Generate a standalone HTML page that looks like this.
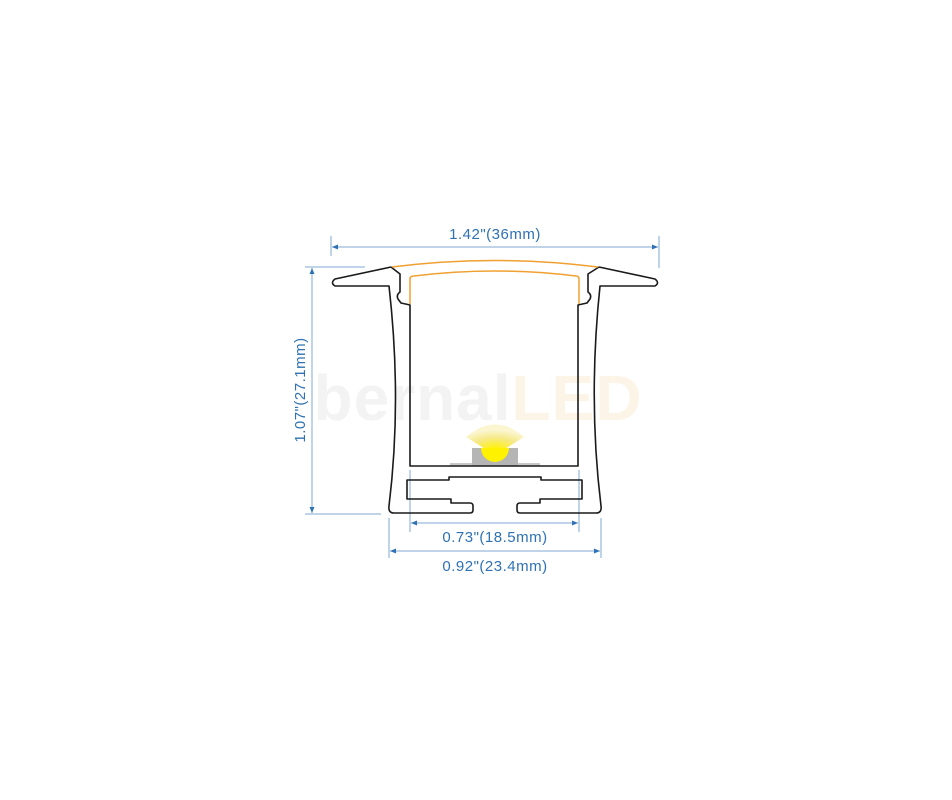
<!DOCTYPE html>
<html><head><style>
html,body{margin:0;padding:0;background:#fff;}
svg{display:block}
text{font-family:"Liberation Sans",sans-serif;fill:#2e72b4;font-size:15px;letter-spacing:0.5px}
</style></head><body>
<svg width="952" height="800" viewBox="0 0 952 800" xmlns="http://www.w3.org/2000/svg">
<defs>
<radialGradient id="lg" cx="0.5" cy="0.9" r="0.7">
<stop offset="0" stop-color="#fff200"/><stop offset="0.6" stop-color="#f6e98a"/><stop offset="1" stop-color="#fbf6d0"/>
</radialGradient>
</defs>
<text x="478" y="420" text-anchor="middle" style="font-size:64px;font-weight:bold;fill:#f3f3f3;letter-spacing:1px">bernal<tspan style="fill:#fdf4e8">LED</tspan></text>
<!-- dimension lines -->
<g stroke="#7fa9d3" stroke-width="1" fill="none">
<line x1="331" y1="236" x2="331" y2="256"/><line x1="659" y1="236" x2="659" y2="268"/>
<line x1="332" y1="247" x2="658" y2="247"/>
<line x1="305" y1="267" x2="365" y2="267"/><line x1="305" y1="514" x2="381" y2="514"/>
<line x1="312" y1="268" x2="312" y2="513"/>
<line x1="410" y1="470" x2="410" y2="532"/><line x1="579" y1="470" x2="579" y2="532"/>
<line x1="411" y1="523" x2="578" y2="523"/>
<line x1="389" y1="518" x2="389" y2="558"/><line x1="601" y1="518" x2="601" y2="558"/>
<line x1="390" y1="551" x2="600" y2="551"/>
</g>
<g fill="#2e72b4">
<path d="M332 247 l6 -2.5 v5z"/><path d="M658 247 l-6 -2.5 v5z"/>
<path d="M312 268 l-2.5 6 h5z"/><path d="M312 513 l-2.5 -6 h5z"/>
<path d="M411 523 l6 -2.5 v5z"/><path d="M578 523 l-6 -2.5 v5z"/>
<path d="M390 551 l6 -2.5 v5z"/><path d="M600 551 l-6 -2.5 v5z"/>
</g>
<text x="495" y="239" text-anchor="middle">1.42"(36mm)</text>
<text x="495" y="542" text-anchor="middle">0.73"(18.5mm)</text>
<text x="495" y="571" text-anchor="middle">0.92"(23.4mm)</text>
<text transform="translate(305,390) rotate(-90)" text-anchor="middle">1.07"(27.1mm)</text>
<!-- LED -->
<path d="M466 437 Q495 412 524 437 L500 452 L490 452 Z" fill="url(#lg)"/>
<rect x="450" y="463" width="90" height="3" fill="#c8c8c8"/>
<rect x="472" y="448" width="46" height="18" fill="#b5b5b5"/>
<path d="M481 448 A14 14 0 0 0 509 448 Z" fill="#fff200"/>
<!-- profile -->
<g fill="none" stroke="#1a1a1a" stroke-width="1.6" stroke-linejoin="round">
<path d="M391 267 L335 279 Q330 283 335 286 L389 286 Q402 400 389 506 Q388 513 394 513 L470 513 Q473 513 473 510 L473 506 Q473 503 470 503 L451 503 L451 499 L407 499 L407 480 L449 480 L449 477 L541 477 L541 480 L582 480 L582 499 L540 499 L540 503 L520 503 Q517 503 517 506 L517 510 Q517 513 520 513 L596 513 Q602 513 601 506 Q588 400 600 286 L655 286 Q660 283 655 279 L599 267"/>
<path d="M391 267 L400 274 L400 292 Q396 295 398 299 L401 303 L410 305 L410 466 L578 466 L578 305 L587 303 L590 299 Q592 295 588 292 L588 274 L599 267"/>
</g>
<g fill="none" stroke="#f0a030" stroke-width="1.5">
<path d="M392 267 Q495 254 598 267"/>
<path d="M410 304 L410 279 Q410 276 414 276 Q495 266 576 276 Q579 276 579 279 L579 304"/>
</g>
</svg>
</body></html>
